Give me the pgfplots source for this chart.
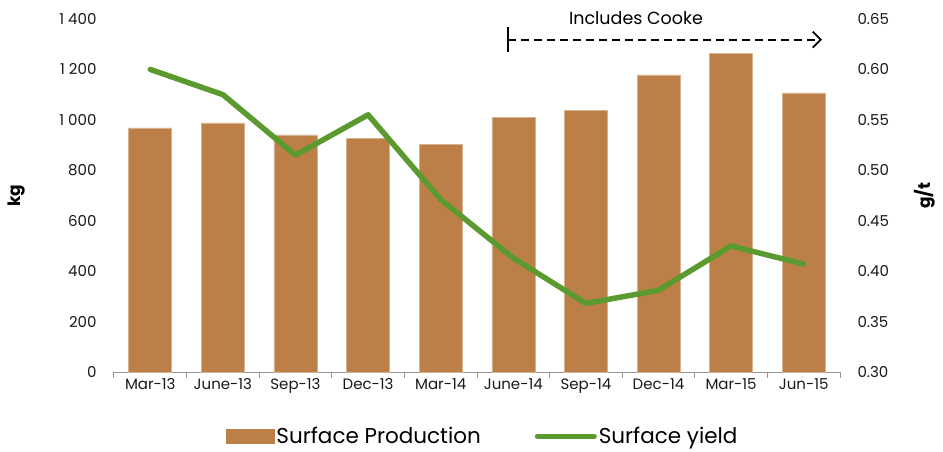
\documentclass[border=0pt]{standalone}
\usepackage{pgfplots}
\pgfplotsset{compat=1.18}
\usepackage{fontspec}
\setmainfont{Poppins}
\usetikzlibrary{arrows.meta}

\definecolor{barbrown}{RGB}{187,127,71}
\definecolor{linegreen}{RGB}{91,154,47}
\definecolor{axisgray}{RGB}{150,150,150}

\pgfplotstableread{
x  prod  yield
0  968   0.600
1  988   0.575
2  940   0.515
3  928   0.555
4  904   0.471
5  1011  0.413
6  1039  0.368
7  1178  0.381
8  1265  0.425
9  1107  0.407
}\quarterdata

\pgfplotsset{
  common/.style={
    scale only axis,
    width=726pt, height=353pt,
    at={(0,0)}, anchor=south west,
    xmin=-0.5, xmax=9.5,
    /pgf/number format/assume math mode=true,
    tick label style={font=\fontsize{15}{17}\selectfont, text=black!90},
    label style={font=\fontsize{17}{19}\selectfont\bfseries},
  },
}

\begin{document}
\begin{tikzpicture}
\useasboundingbox (-114pt,-79pt) rectangle (829pt,372pt);

\begin{axis}[
  common,
  ymin=0, ymax=1400,
  ytick={0,200,...,1400},
  yticklabel style={xshift=-14pt},
  /pgf/number format/1000 sep={\ },
  axis x line*=bottom,
  axis y line*=left,
  y axis line style={draw=none},
  x axis line style={draw=axisgray, line width=1pt, -},
  xtick={0,...,9},
  xticklabels={Mar-13,June-13,Sep-13,Dec-13,Mar-14,June-14,Sep-14,Dec-14,Mar-15,Jun-15},
  xticklabel style={yshift=-3pt},
  major tick length=0pt,
  minor xtick={-0.5,0.5,...,9.5},
  minor tick length=6pt,
  tick align=outside,
  minor x tick style={draw=axisgray, line width=1pt},
  ylabel={kg},
  ylabel style={at={(axis description cs:-0.134,0.5)}, anchor=center},
]
\addplot[ybar, bar width=43pt, fill=barbrown, draw=barbrown!60!white, line width=0.6pt]
  table[x=x, y=prod] {\quarterdata};
\end{axis}

\begin{axis}[
  common,
  clip=false,
  ymin=0.30, ymax=0.65,
  ytick={0.30,0.35,...,0.66},
  yticklabel style={xshift=14pt,
    /pgf/number format/.cd, fixed, fixed zerofill, precision=2},
  axis y line*=right,
  axis x line=none,
  y axis line style={draw=none},
  major tick length=0pt,
  ylabel={g/t},
  ylabel style={at={(axis description cs:1.117,0.5)}, anchor=center},
  legend columns=2,
  legend style={at={(0.508,-0.182)}, anchor=center, draw=none, fill=none,
    font=\fontsize{21.5}{23}\selectfont,
    /tikz/every even column/.append style={column sep=52pt}},
]
\addlegendimage{legend image code/.code={\fill[barbrown] (0pt,-7pt) rectangle (48pt,7pt);}}
\addlegendentry{Surface Production}
\addplot[linegreen, line width=5.5pt, line join=round, line cap=round,
  legend image code/.code={\draw[linegreen, line width=5pt, line cap=round] (0pt,0pt) -- (57pt,0pt);}]
  table[x=x, y=yield] {\quarterdata};
\addlegendentry{Surface yield}

\draw[black, line width=1.8pt, dash pattern=on 8pt off 5pt,
  {Bar[width=25pt]}-{Straight Barb[length=8pt,width=16pt,line width=1.8pt]}]
  (axis cs:4.913,0.6295) -- (axis cs:9.252,0.6295);
\node[font=\fontsize{17.5}{19}\selectfont, anchor=center] at (axis cs:6.69,0.651) {Includes Cooke};
\end{axis}
\end{tikzpicture}
\end{document}
